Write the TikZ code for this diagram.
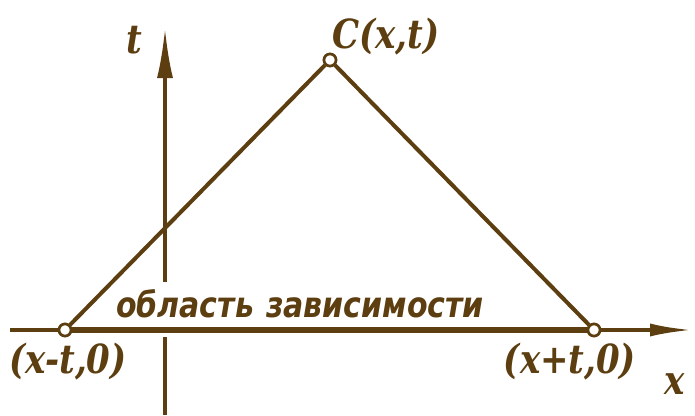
\documentclass[tikz,border=0pt]{standalone}
\usepackage{graphicx}
\usepackage{fontspec}
\setmainfont{DejaVu Serif}
\newfontfamily\rusfont{DejaVu Sans}
\usetikzlibrary{arrows.meta}
\definecolor{ink}{HTML}{5C3E10}
\newcommand{\tallt}[1]{\scalebox{1}[1.18]{#1}}
\tikzset{
  axisline/.style={draw=ink, line width=3.6pt},
  segline/.style={draw=ink, line width=6pt},
  sideline/.style={draw=ink, line width=4pt},
  vtx/.style={circle, draw=ink, line width=2.6pt, fill=white, inner sep=0pt, minimum size=12pt},
  lbl/.style={text=ink, font=\fontsize{34}{36}\selectfont\bfseries\itshape, inner sep=0pt},
  rus/.style={text=ink, font=\rusfont\fontsize{30}{32}\selectfont\bfseries\itshape, inner sep=0pt},
  tip/.style={-{Latex[length=50pt,width=16pt]}},
  tipx/.style={-{Latex[length=42pt,width=13pt]}}
}
\begin{document}
\begin{tikzpicture}[x=1pt,y=-1pt]
\useasboundingbox[fill=white] (0,0) rectangle (695,415);
% coordinates
\coordinate (xs) at (10,330);
\coordinate (xe) at (692,330);
\coordinate (ts) at (165,415);
\coordinate (tm) at (165,337);
\coordinate (tb) at (165,282);
\coordinate (te) at (165,28);
% t axis
\draw[axisline] (ts) -- (tm);
\draw[axisline,tip] (tb) -- (te);
% vertices
\node[vtx] (A) at (65,330) {};
\node[vtx] (B) at (594,330) {};
\node[vtx] (C) at (330,60) {};
% x axis
\draw[axisline] (xs) -- (A);
\draw[axisline,tipx] (B) -- (xe);
\draw[segline] (A) -- (B);
\draw[sideline] (A) -- (C) -- (B);
% redraw vertices on top
\node[vtx] at (A) {};
\node[vtx] at (B) {};
\node[vtx] at (C) {};
% labels
\node[lbl] (lC) at (386,37) {\tallt{C(x,t)}};
\node[lbl] (lt) at (134,40) {\tallt{t}};
\node[lbl] (lx) at (675,384) {\tallt{x}};
\node[lbl] (lA) at (68,362) {\tallt{(x-t,0)}};
\node[lbl] (lB) at (570,362) {\tallt{(x+t,0)}};
\node[rus] (lR) at (300,304) {\tallt{область\hspace{12pt}зависимости}};
\end{tikzpicture}
\end{document}
